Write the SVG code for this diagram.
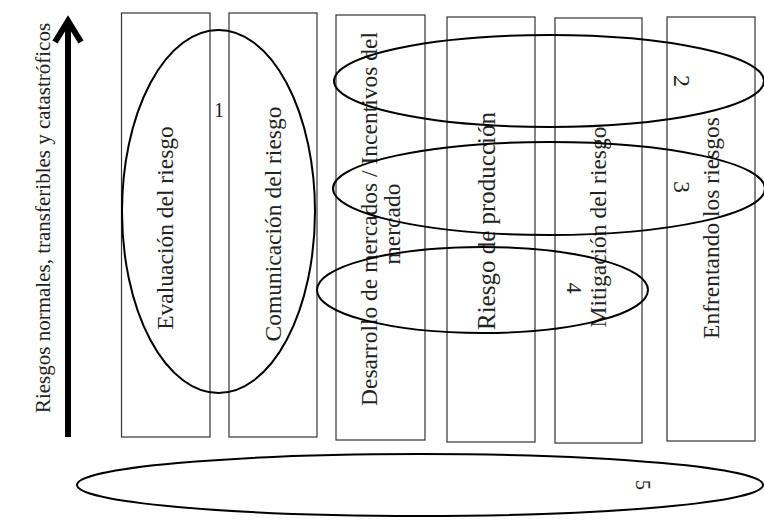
<svg xmlns="http://www.w3.org/2000/svg" width="764" height="520" viewBox="0 0 764 520">
  <style>
    .box { fill: none; stroke: #333; stroke-width: 1.2; }
    .ring { fill: none; stroke: #000; stroke-width: 2; }
    .lbl { font-family: "Liberation Serif", "Times New Roman", serif; font-size: 23.5px; fill: #222; text-anchor: middle; }
    .num { font-family: "Liberation Serif", "Times New Roman", serif; font-size: 22px; fill: #222; text-anchor: middle; dominant-baseline: central; }
  </style>
  <rect width="764" height="520" fill="#fff"/>

  <!-- vertical axis -->
  <g id="axis">
    <line x1="68" y1="437" x2="68" y2="22" stroke="#000" stroke-width="6"/>
    <polyline points="55,42 68,21 81,42" fill="none" stroke="#000" stroke-width="6" stroke-linejoin="miter" stroke-miterlimit="10"/>
    <text class="lbl" transform="translate(50,218) rotate(-90)" style="font-size:21px">Riesgos normales, transferibles y catastróficos</text>
  </g>

  <!-- columns -->
  <g id="col-evaluacion">
    <rect class="box" x="121.5" y="13" width="88.5" height="424"/>
    <text class="lbl" transform="translate(173,228) rotate(-90)">Evaluación del riesgo</text>
  </g>
  <g id="col-comunicacion">
    <rect class="box" x="229" y="13" width="88" height="424"/>
    <text class="lbl" transform="translate(281,224) rotate(-90)">Comunicación del riesgo</text>
  </g>
  <g id="col-mercados">
    <rect class="box" x="336" y="15" width="89" height="425"/>
    <text class="lbl" transform="translate(377,219) rotate(-90)">Desarrollo de mercados / Incentivos del</text>
    <text class="lbl" transform="translate(400,224) rotate(-90)">mercado</text>
  </g>
  <g id="col-produccion">
    <rect class="box" x="447" y="17" width="88" height="425"/>
    <text class="lbl" transform="translate(495,221) rotate(-90)" style="font-size:25px">Riesgo de producción</text>
  </g>
  <g id="col-mitigacion">
    <rect class="box" x="555" y="18" width="87" height="425"/>
    <text class="lbl" transform="translate(606,227) rotate(-90)">Mitigación del riesgo</text>
  </g>
  <g id="col-enfrentando">
    <rect class="box" x="667" y="17" width="88" height="424"/>
    <text class="lbl" transform="translate(719,228) rotate(-90)">Enfrentando los riesgos</text>
  </g>

  <!-- grouping rings -->
  <g id="connectors">
    <ellipse class="ring" cx="218.5" cy="211.5" rx="96.5" ry="181.5"/>
    <ellipse class="ring" cx="549" cy="81" rx="215" ry="46"/>
    <ellipse class="ring" cx="549" cy="188.5" rx="216" ry="46.5"/>
    <ellipse class="ring" cx="482.5" cy="290" rx="165.5" ry="43"/>
    <ellipse class="ring" cx="420" cy="485" rx="343" ry="31"/>
  </g>

  <!-- group numbers -->
  <g id="numbers">
    <text class="num" x="219" y="110" style="font-size:20px">1</text>
    <text class="num" transform="translate(682,81) rotate(90)" style="font-size:24px">2</text>
    <text class="num" transform="translate(682,187) rotate(90)" style="font-size:24px">3</text>
    <text class="num" transform="translate(574,288) rotate(90)">4</text>
    <text class="num" transform="translate(643,485) rotate(90)" style="font-size:20px">5</text>
  </g>
</svg>
